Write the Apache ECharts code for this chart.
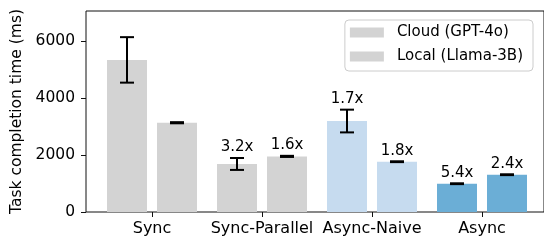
<!DOCTYPE html>
<html>
<head>
<meta charset="utf-8">
<script src="https://cdn.jsdelivr.net/npm/echarts@6/dist/echarts.min.js"></script>
<style>
  html, body { margin: 0; padding: 0; background: #fff; }
  #chart { width: 544px; height: 243px; }
</style>
</head>
<body>
<div id="chart"></div>
<script>
var categories = ['Sync', 'Sync-Parallel', 'Async-Naive', 'Async'];
var cloudValues = [5350, 1690, 3200, 995];
var cloudErrors = [800, 210, 400, 15];
var localValues = [3140, 1956, 1769, 1312];
var localErrors = [20, 20, 15, 15];
var cloudLabels = ['', '3.2x', '1.7x', '5.4x'];
var localLabels = ['', '1.6x', '1.8x', '2.4x'];
var categoryColors = ['#d3d3d3', '#d3d3d3', '#c6dbef', '#6baed6'];
var yTicks = [0, 2000, 4000, 6000];

var FONT = 'DejaVu Sans';
var BAR_W = 40, BAR_GAP = 10;
var Y_MAX = 7070;

var dom = document.getElementById('chart');
var chart = echarts.init(dom, null, { renderer: 'canvas' });

function barData(values) {
    return values.map(function (v, i) {
        return { value: v, itemStyle: { color: categoryColors[i] } };
    });
}

// error bar + speedup label, drawn through the axis scales
function errorSeries(values, errors, labels, side) {
    return {
        type: 'custom',
        xAxisIndex: 1,
        yAxisIndex: 1,
        z: 5,
        silent: true,
        data: values.map(function (v, i) { return [i, v, errors[i]]; }),
        renderItem: function (params, api) {
            var cat = api.value(0), v = api.value(1), e = api.value(2);
            var x = api.coord([cat, v])[0] + side * (BAR_W + BAR_GAP) / 2;
            var top = api.coord([cat, v + e])[1];
            var bot = api.coord([cat, v - e])[1];
            var st = { stroke: '#000', lineWidth: 2 };
            var kids = [
                { type: 'line', shape: { x1: x, y1: top, x2: x, y2: bot }, style: st },
                { type: 'line', shape: { x1: x - 7, y1: top, x2: x + 7, y2: top }, style: st },
                { type: 'line', shape: { x1: x - 7, y1: bot, x2: x + 7, y2: bot }, style: st }
            ];
            var txt = labels[params.dataIndex];
            if (txt) {
                kids.push({
                    type: 'text',
                    style: {
                        text: txt, x: x, y: top - 3,
                        align: 'center', verticalAlign: 'bottom',
                        fontFamily: FONT, fontSize: 15, fill: '#000'
                    }
                });
            }
            return { type: 'group', children: kids };
        }
    };
}

var option = {
    animation: false,
    backgroundColor: '#fff',
    textStyle: { fontFamily: FONT },
    grid: [
        { left: 86, right: -5, top: 11, bottom: 31, show: true, borderColor: '#111', borderWidth: 1, backgroundColor: 'transparent' },
        { left: 97, right: 7, top: 11, bottom: 31 }
    ],
    legend: {
        data: ['Cloud (GPT-4o)', 'Local (Llama-3B)'],
        orient: 'vertical',
        right: 11,
        top: 20,
        icon: 'rect',
        itemWidth: 34,
        itemHeight: 10,
        itemGap: 9,
        padding: [5, 10, 7, 5],
        backgroundColor: 'rgba(255,255,255,0.8)',
        borderColor: '#cccccc',
        borderWidth: 1,
        borderRadius: 4,
        textStyle: { fontFamily: FONT, fontSize: 15, color: '#000', padding: [0, 0, 0, 8] }
    },
    xAxis: [
        {
            gridIndex: 0, type: 'value', min: 0, max: 1,
            axisLine: { show: false }, axisTick: { show: false },
            axisLabel: { show: false }, splitLine: { show: false }
        },
        {
            gridIndex: 1, type: 'category', data: categories,
            axisLine: { show: false },
            axisTick: { show: true, alignWithLabel: true, length: 5, interval: 0, lineStyle: { color: '#111' } },
            axisLabel: { fontFamily: FONT, fontSize: 16, color: '#000', margin: 9, interval: 0 },
            splitLine: { show: false }
        }
    ],
    yAxis: [
        {
            gridIndex: 0, type: 'value', min: 0, max: Y_MAX,
            name: 'Task completion time (ms)',
            nameLocation: 'middle', nameRotate: 90, nameGap: 55,
            nameTextStyle: { fontFamily: FONT, fontSize: 15.5, color: '#000' },
            axisLine: { show: false },
            axisTick: { show: true, length: 5, customValues: yTicks, lineStyle: { color: '#111' } },
            axisLabel: {
                fontFamily: FONT, fontSize: 15.5, color: '#000', margin: 11, customValues: yTicks,
                formatter: function (v) { return String(v); }
            },
            splitLine: { show: false }
        },
        {
            gridIndex: 1, type: 'value', min: 0, max: Y_MAX, show: false,
            splitLine: { show: false }
        }
    ],
    series: [
        {
            name: 'Cloud (GPT-4o)', type: 'bar', xAxisIndex: 1, yAxisIndex: 1,
            barWidth: BAR_W, barGap: (BAR_GAP / BAR_W * 100) + '%',
            itemStyle: { color: '#d3d3d3' },
            data: barData(cloudValues)
        },
        {
            name: 'Local (Llama-3B)', type: 'bar', xAxisIndex: 1, yAxisIndex: 1,
            barWidth: BAR_W, barGap: (BAR_GAP / BAR_W * 100) + '%',
            itemStyle: { color: '#d3d3d3' },
            data: barData(localValues)
        },
        errorSeries(cloudValues, cloudErrors, cloudLabels, -1),
        errorSeries(localValues, localErrors, localLabels, 1)
    ]
};

chart.setOption(option);
</script>
</body>
</html>
